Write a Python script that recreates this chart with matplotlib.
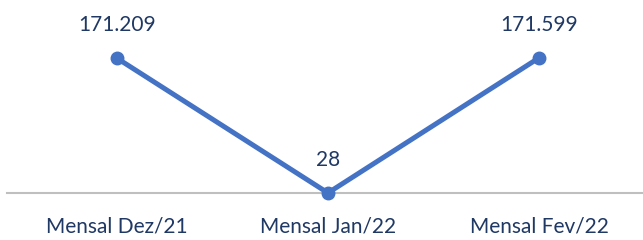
import matplotlib
matplotlib.use('Agg')
import matplotlib.pyplot as plt

categories = ['Mensal Dez/21', 'Mensal Jan/22', 'Mensal Fev/22']
values = [171209, 28, 171599]
value_labels = ['171.209', '28', '171.599']

plt.rcParams['font.family'] = ['Lato', 'DejaVu Sans']

fig = plt.figure(figsize=(6.43, 2.4), dpi=100)
ax = fig.add_axes([0.017, 0.196, 0.986, 0.804])

x = list(range(len(categories)))
ax.plot(x, values, color='#4472C4', linewidth=3.6, marker='o', markersize=9,
        clip_on=False, zorder=3, solid_capstyle='round')

for xi, v, lab in zip(x, values, value_labels):
    ax.annotate(lab, (xi, v), xytext=(0, 33), textcoords='offset pixels',
                ha='center', va='center', fontsize=15, color='#1F3864')

ax.set_xlim(-0.5, 2.5)
ax.set_ylim(0, 244770)
ax.set_xticks(x)
ax.set_xticklabels(categories, fontsize=15, color='#1F3864')
ax.tick_params(axis='x', length=0, pad=17)
ax.set_yticks([])
for s in ['top', 'right', 'left']:
    ax.spines[s].set_visible(False)
ax.spines['bottom'].set_color('#BFBFBF')
ax.spines['bottom'].set_linewidth(1.5)
ax.spines['bottom'].set_bounds(-0.52, 2.5)

fig.savefig('out.png', dpi=100)
